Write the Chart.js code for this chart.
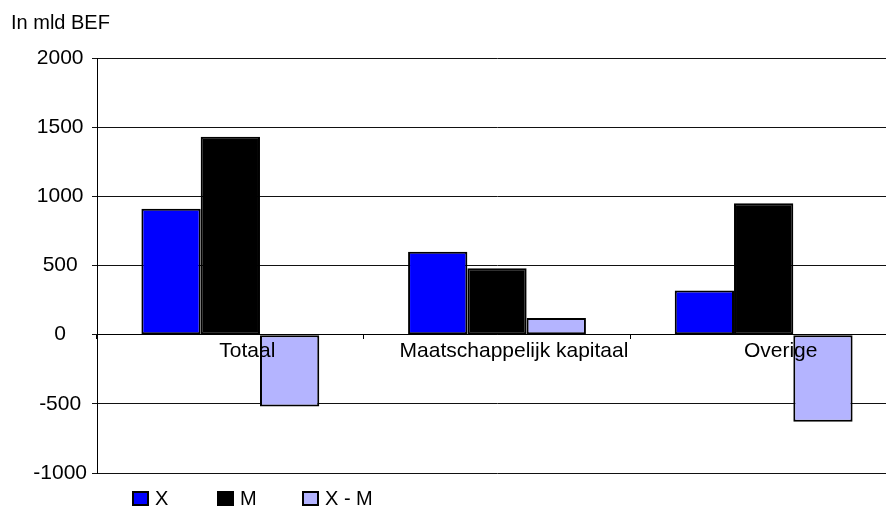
<!DOCTYPE html>
<html>
<head>
<meta charset="utf-8">
<script src="https://cdn.jsdelivr.net/npm/chart.js@4.4.1/dist/chart.umd.min.js"></script>
<style>
  html, body { margin: 0; padding: 0; background: #fff; overflow: hidden; }
  #wrap { width: 900px; height: 516px; }
</style>
</head>
<body>
<div id="wrap"><canvas id="chart" width="900" height="516"></canvas></div>
<script>
const categories = ['Totaal', 'Maatschappelijk kapitaal', 'Overige'];
const exportValues = [910, 600, 320];     // X
const importValues = [1430, 480, 950];    // M
const balanceValues = [-520, 120, -630];  // X - M
const yTicks = [-1000, -500, 0, 500, 1000, 1500, 2000];

const FONT = "'Liberation Sans', Arial, Helvetica, sans-serif";

// hand-drawn legend: small bordered boxes, evenly spaced under the plot
const boxLegend = {
  id: 'boxLegend',
  afterDraw(chart) {
    const ctx = chart.ctx;
    ctx.save();
    ctx.font = '20px ' + FONT;
    ctx.textBaseline = 'middle';
    ctx.textAlign = 'left';
    chart.data.datasets.forEach((ds, i) => {
      const x = 133 + i * 85;
      const y = 492;
      ctx.fillStyle = ds.backgroundColor;
      ctx.fillRect(x, y, 15, 13);
      ctx.lineWidth = 2;
      ctx.strokeStyle = '#000';
      ctx.strokeRect(x, y, 15, 13);
      ctx.fillStyle = '#000';
      ctx.fillText(ds.label, x + 22, y + 7);
    });
    ctx.restore();
  }
};

new Chart(document.getElementById('chart'), {
  type: 'bar',
  data: {
    labels: categories,
    datasets: [
      { label: 'X', data: exportValues, backgroundColor: '#0000ff' },
      { label: 'M', data: importValues, backgroundColor: '#000000' },
      { label: 'X - M', data: balanceValues, backgroundColor: '#b4b4ff' }
    ]
  },
  options: {
    responsive: false,
    animation: false,
    layout: { padding: { left: 11, right: 3, top: 0, bottom: 43 } },
    datasets: {
      bar: {
        borderColor: '#000',
        borderWidth: 2,
        borderSkipped: false,
        barPercentage: 1,
        categoryPercentage: 0.667
      }
    },
    plugins: {
      legend: { display: false },
      tooltip: { enabled: false },
      title: {
        display: true,
        text: 'In mld BEF',
        align: 'start',
        color: '#000',
        font: { family: FONT, size: 20, weight: 'normal' },
        padding: { top: 11, bottom: 23 }
      }
    },
    scales: {
      x: {
        position: { y: 0 },
        grid: { drawOnChartArea: false, drawTicks: true, tickLength: 4, color: '#000' },
        border: { display: true, color: '#000', width: 1 },
        ticks: {
          z: 1,   // category names sit on top of the bars
          color: '#000',
          font: { family: FONT, size: 21 },
          padding: 0,
          labelOffset: 17,
          maxRotation: 0,
          autoSkip: false
        }
      },
      y: {
        min: yTicks[0],
        max: yTicks[yTicks.length - 1],
        afterFit(scale) { scale.width = 86; },
        grid: { color: '#111', tickLength: 5 },
        border: { display: true, color: '#000', width: 1 },
        ticks: {
          stepSize: yTicks[1] - yTicks[0],
          color: '#000',
          crossAlign: 'center',
          padding: 5,
          font: { family: FONT, size: 21 },
          callback: v => String(v)
        }
      }
    }
  },
  plugins: [boxLegend]
});
</script>
</body>
</html>
